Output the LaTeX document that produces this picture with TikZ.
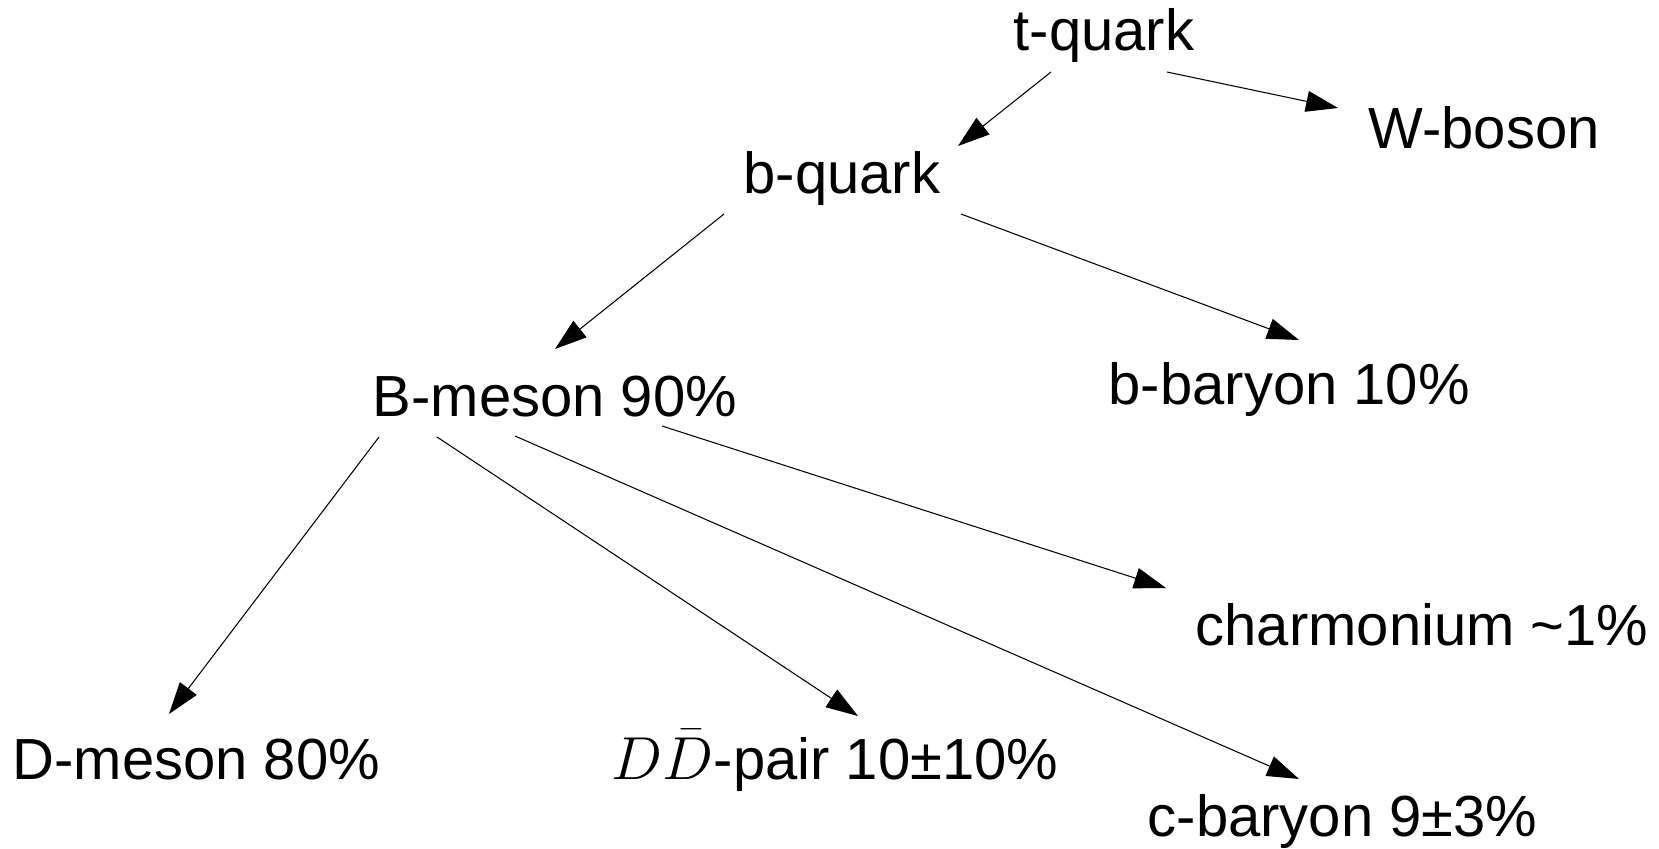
\documentclass[tikz,border=0pt]{standalone}
\usepackage{fontspec}
\setmainfont{Liberation Sans}
\usepackage{tikz}
\usetikzlibrary{arrows.meta, calc, positioning}

\begin{document}
\begin{tikzpicture}[x=0.1mm, y=-0.1mm,
                        particle/.style={anchor=base west, inner sep=0pt, font=\fontsize{16.5}{19}\selectfont},
                        decay/.style={line width=0.3pt, -{Triangle[length=3.2mm, width=2.1mm]}}]
                        \useasboundingbox (0, 0) rectangle (1659, 848);
                        \node[particle] (tq) at (1013, 51) {t-quark};
                        \node[particle] (wb) at (1368, 148) {W-boson};
                        \node[particle] (bq) at (743, 194) {b-quark};
                        \node[particle] (bm) at (372, 416) {B-meson 90\%};
                        \node[particle] (bb) at (1108, 404) {b-baryon 10\%};
                        \node[particle] (ch) at (1195, 645) {charmonium \textasciitilde1\%};
                        \node[particle] (dm) at (12, 779) {D-meson 80\%};
                        \node[particle] (dd) at (611, 779) {$D\bar{D}$-pair 10±10\%};
                        \node[particle] (cb) at (1147, 836) {c-baryon 9±3\%};
                        \draw[decay] ($(tq.base west)+(38, 21)$) -- ($(bq.base west)+(215, -48)$);
                        \draw[decay] ($(tq.base west)+(154, 21)$) -- ($(wb.base west)+(-30, -40)$);
                        \draw[decay] ($(bq.base west)+(-19, 20)$) -- ($(bm.base west)+(183, -67)$);
                        \draw[decay] ($(bq.base west)+(218, 20)$) -- ($(bb.base west)+(191, -64)$);
                        \draw[decay] ($(bm.base west)+(7, 21)$) -- ($(dm.base west)+(157, -65)$);
                        \draw[decay] ($(bm.base west)+(65, 21)$) -- ($(dd.base west)+(247, -63)$);
                        \draw[decay] ($(bm.base west)+(143, 20)$) -- ($(cb.base west)+(152, -57)$);
                        \draw[decay] ($(bm.base west)+(290, 10)$) -- ($(ch.base west)+(-29, -57)$);
                    \end{tikzpicture}
\end{document}
